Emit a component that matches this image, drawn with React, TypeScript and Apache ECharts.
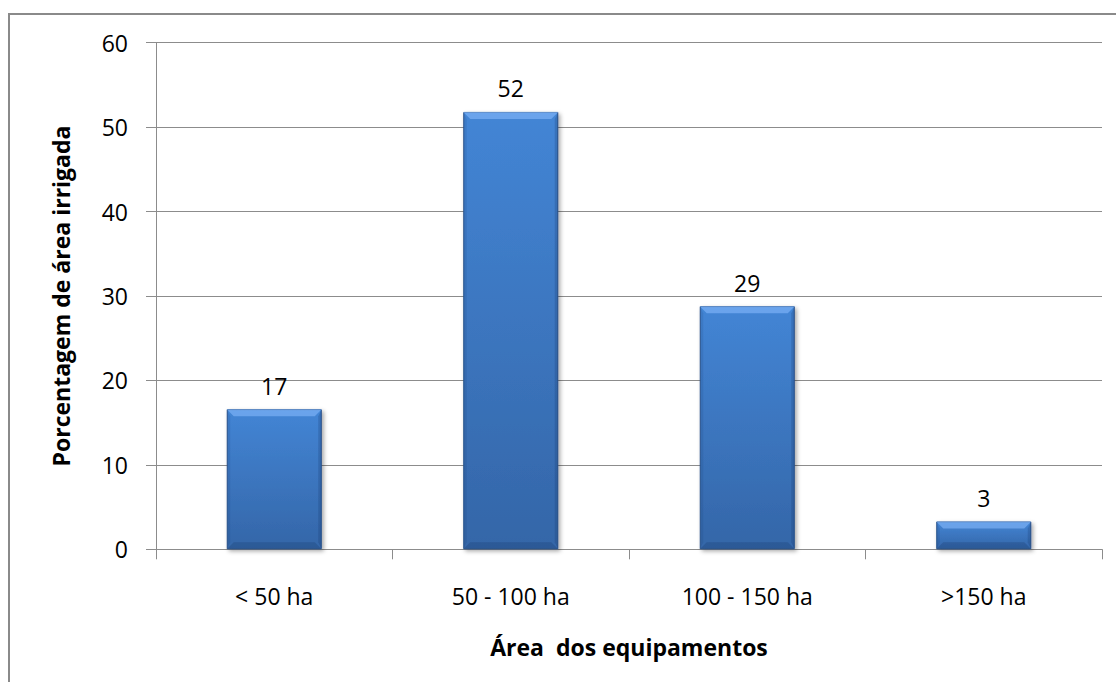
import React, { useEffect, useRef } from "react";
import * as echarts from "echarts";

const categories = ["< 50 ha", "50 - 100 ha", "100 - 150 ha", ">150 ha"];
const values = [16.6, 51.8, 28.8, 3.3];
const yTicks = [0, 10, 20, 30, 40, 50, 60];
const xTitle = "Área  dos equipamentos";
const yTitle = "Porcentagem de área irrigada";

const BAR_W = 95;

export default function App() {
  const ref = useRef<HTMLDivElement>(null);
  useEffect(() => {
    document.body.style.margin = "0";
    const chart = echarts.init(ref.current!, null, { renderer: "svg" });
    const font = "'Open Sans', 'DejaVu Sans', sans-serif";
    const bevelData = values.map((v, i) => [i, v]);
    chart.setOption({
      animation: false,
      backgroundColor: "#ffffff",
      textStyle: { fontFamily: font },
      graphic: [
        {
          type: "rect",
          shape: { x: 9, y: 14, width: 1200, height: 800 },
          style: { fill: "none", stroke: "#8a8a8a", lineWidth: 2 },
          silent: true,
        },
      ],
      grid: { left: 156, right: 14, top: 42.7, bottom: 132.7 },
      xAxis: {
        type: "category",
        data: categories,
        name: xTitle,
        nameLocation: "middle",
        nameGap: 86,
        nameTextStyle: { fontFamily: font, fontSize: 23, fontWeight: "bold", color: "#000" },
        axisLine: { lineStyle: { color: "#8c8c8c", width: 1 } },
        axisTick: { show: true, length: 10, lineStyle: { color: "#8c8c8c" } },
        axisLabel: { fontFamily: font, fontSize: 23, color: "#000", margin: 35 },
      },
      yAxis: {
        type: "value",
        min: yTicks[0],
        max: yTicks[yTicks.length - 1],
        interval: 10,
        name: yTitle,
        nameLocation: "middle",
        nameGap: 84,
        nameTextStyle: { fontFamily: font, fontSize: 23, fontWeight: "bold", color: "#000" },
        axisLine: { show: true, lineStyle: { color: "#8c8c8c", width: 1 } },
        axisTick: { show: true, length: 10, lineStyle: { color: "#8c8c8c" } },
        axisLabel: { fontFamily: font, fontSize: 23, color: "#000", margin: 28 },
        splitLine: { show: true, lineStyle: { color: "#8c8c8c", width: 1 } },
      },
      series: [
        {
          type: "bar",
          data: values,
          barWidth: BAR_W,
          itemStyle: {
            color: new echarts.graphic.LinearGradient(0, 0, 0, 1, [
              { offset: 0, color: "#4385d5" },
              { offset: 1, color: "#3466a8" },
            ]),
            borderColor: "#2c5791",
            borderWidth: 1,
            shadowColor: "rgba(0,0,0,0.35)",
            shadowBlur: 4,
            shadowOffsetX: 2,
            shadowOffsetY: 2,
          },
          label: {
            show: true,
            position: "top",
            distance: 12,
            fontFamily: font,
            fontSize: 23,
            color: "#000",
            formatter: (p: any) => String(Math.round(p.value)),
          },
          z: 2,
        },
        {
          type: "custom",
          data: bevelData,
          z: 3,
          silent: true,
          renderItem: (params: any, api: any) => {
            const top = api.coord([api.value(0), api.value(1)]);
            const bot = api.coord([api.value(0), 0]);
            const x0 = top[0] - BAR_W / 2;
            const x1 = top[0] + BAR_W / 2;
            const y0 = top[1];
            const y1 = bot[1];
            const b = Math.min(7, (y1 - y0) / 2.5);
            return {
              type: "group",
              children: [
                {
                  type: "polygon",
                  shape: { points: [[x0, y0], [x1, y0], [x1 - b, y0 + b], [x0 + b, y0 + b]] },
                  style: { fill: "rgba(140,190,255,0.55)" },
                },
                {
                  type: "polygon",
                  shape: { points: [[x0, y1], [x1, y1], [x1 - b, y1 - b], [x0 + b, y1 - b]] },
                  style: { fill: "rgba(20,50,100,0.25)" },
                },
                {
                  type: "polygon",
                  shape: { points: [[x0, y0], [x0 + b * 0.5, y0 + b], [x0 + b * 0.5, y1 - b], [x0, y1]] },
                  style: { fill: "rgba(20,50,100,0.12)" },
                },
                {
                  type: "polygon",
                  shape: { points: [[x1, y0], [x1 - b * 0.5, y0 + b], [x1 - b * 0.5, y1 - b], [x1, y1]] },
                  style: { fill: "rgba(20,50,100,0.22)" },
                },
              ],
            };
          },
        },
      ],
    });
    return () => chart.dispose();
  }, []);
  return <div ref={ref} style={{ width: 1116, height: 682 }} />;
}
